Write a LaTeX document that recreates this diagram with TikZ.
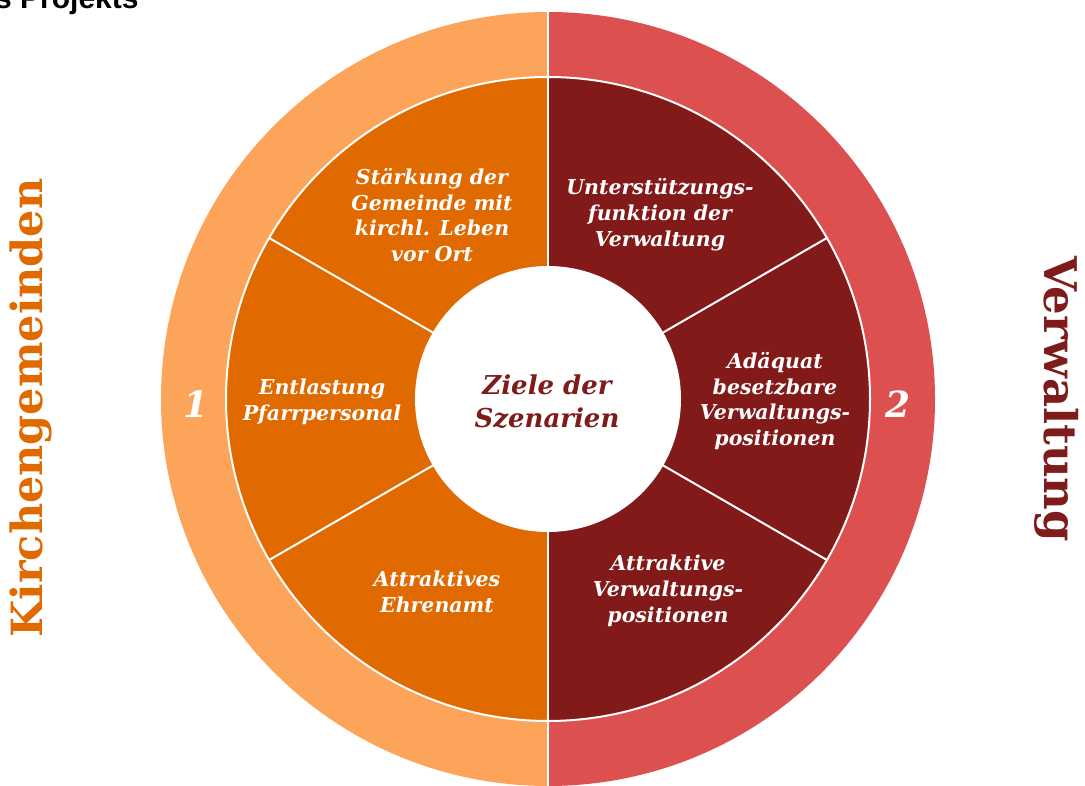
\documentclass[tikz,border=0pt]{standalone}
\usepackage{fontspec}
\setmainfont{DejaVu Serif}
\setsansfont{Liberation Sans}
\definecolor{ringL}{HTML}{FCA45A}
\definecolor{ringR}{HTML}{DC5050}
\definecolor{segL}{HTML}{E06A00}
\definecolor{segR}{HTML}{821A1A}
\definecolor{txtL}{HTML}{E06A00}
\definecolor{txtR}{HTML}{7E1C1C}
\begin{document}
\begin{tikzpicture}[x=1pt,y=1pt,
  lbl/.style={text=white, font=\fontsize{20.5}{25.8}\selectfont\bfseries\itshape, align=center, inner sep=0pt},
  centre/.style={text=txtR, font=\fontsize{26}{33}\selectfont\bfseries\itshape, align=center, inner sep=0pt},
  num/.style={text=white, font=\fontsize{36}{36}\selectfont\bfseries\itshape, inner sep=0pt},
  side/.style={font=\bfseries, inner sep=0pt},
  sep/.style={draw=white, line width=2pt}
]
\useasboundingbox (0,0) rectangle (1085,785);
\clip (0,0) rectangle (1085,785);
\fill[white] (0,0) rectangle (1085,785);
\coordinate (c) at (548,386);

% outer ring, two halves
\fill[ringL] (c) -- ++(90:387) arc[start angle=90, end angle=270, radius=387] -- cycle;
\fill[ringR] (c) -- ++(90:387) arc[start angle=90, end angle=-90, radius=387] -- cycle;

% inner segment disc
\fill[segL] (c) -- ++(90:322) arc[start angle=90, end angle=270, radius=322] -- cycle;
\fill[segR] (c) -- ++(90:322) arc[start angle=90, end angle=-90, radius=322] -- cycle;
\draw[sep] (c) circle[radius=322];

% segment borders
\foreach \a in {30,150,210,330}
  \draw[sep] (c) -- ++(\a:322);
\draw[sep] (c) ++(90:390) -- ++(0,-780);

% centre disc
\fill[white] (c) circle[radius=133];

% segment labels
\node[lbl] (s1) at (432,570) {Stärkung der\\Gemeinde mit\\kirchl. Leben\\vor Ort};
\node[lbl] (s2) at (660,570) {Unterstützungs-\\funktion der\\Verwaltung};
\node[lbl] (s3) at (322,383) {Entlastung\\Pfarrpersonal};
\node[lbl] (s4) at (775,384) {Adäquat\\besetzbare\\Verwaltungs-\\positionen};
\node[lbl] (s5) at (437,193) {Attraktives\\Ehrenamt};
\node[lbl] (s6) at (668,194) {Attraktive\\Verwaltungs-\\positionen};

\node[centre] (ziel) at (547,383) {Ziele der\\Szenarien};

\node[num] (n1) at (196,381) {1};
\node[num] (n2) at (898,381) {2};

\node[side, text=txtL, rotate=90, font=\fontsize{43}{43}\selectfont\bfseries] (kg) at (31,377) {Kirchengemeinden};
\node[side, text=txtR, rotate=-90, font=\fontsize{45}{45}\selectfont\bfseries] (vw) at (1057,386) {Verwaltung};

% heading running off the top edge
\node[anchor=base west, inner sep=0pt, font=\sffamily\bfseries\fontsize{30}{30}\selectfont] (head) at (-5,776) {s Projekts};
\end{tikzpicture}
\end{document}
